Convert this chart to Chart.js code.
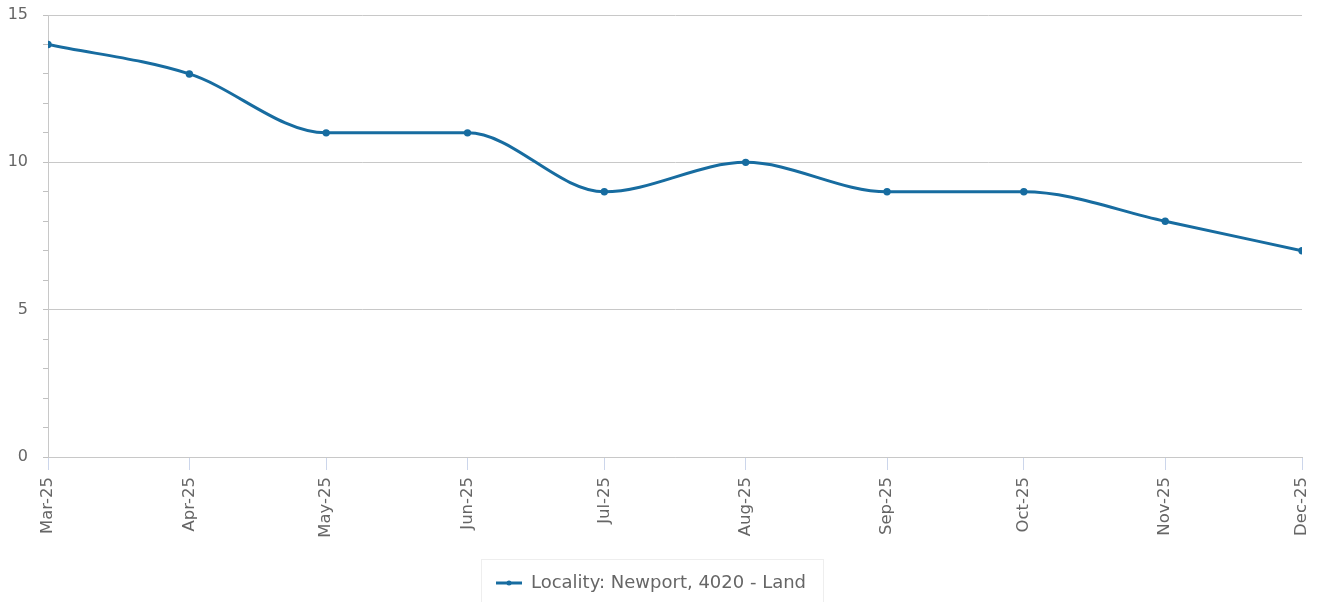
<!DOCTYPE html>
<html>
<head>
<meta charset="utf-8">
<script src="https://cdn.jsdelivr.net/npm/chart.js@4"></script>
<style>
  html, body { margin: 0; padding: 0; background: #fff; }
  #wrap { width: 1322px; height: 602px; position: relative; }
</style>
</head>
<body>
<div id="wrap"><canvas id="grafico"></canvas></div>
<script>
// Dados do gráfico
const rotulosMes = ['Mar-25', 'Apr-25', 'May-25', 'Jun-25', 'Jul-25', 'Aug-25', 'Sep-25', 'Oct-25', 'Nov-25', 'Dec-25'];
const valores = [14, 13, 11, 11, 9, 10, 9, 9, 8, 7];
const nomeSerie = 'Locality: Newport, 4020 - Land';
const ticksY = [0, 5, 10, 15];

// eixo x é temporal: converte o rótulo em dias desde o primeiro mês
const mesesIdx = { Jan: 0, Feb: 1, Mar: 2, Apr: 3, May: 4, Jun: 5, Jul: 6, Aug: 7, Sep: 8, Oct: 9, Nov: 10, Dec: 11 };
function paraData(r) {
    const [m, a] = r.split('-');
    return Date.UTC(2000 + Number(a), mesesIdx[m], 1);
}
const base = paraData(rotulosMes[0]);
const diasX = rotulosMes.map(r => Math.round((paraData(r) - base) / 86400000));

const corLinha = '#176ca0';
const fonte = 'DejaVu Sans';

// símbolo da legenda (linha com ponto)
const simbolo = document.createElement('canvas');
simbolo.width = 26; simbolo.height = 8;
(function () {
    const c = simbolo.getContext('2d');
    c.strokeStyle = corLinha; c.lineWidth = 3;
    c.beginPath(); c.moveTo(0, 4); c.lineTo(26, 4); c.stroke();
    c.fillStyle = corLinha;
    c.beginPath(); c.arc(13, 4, 2.5, 0, Math.PI * 2); c.fill();
})();

// moldura em volta da legenda
const bordaLegenda = {
    id: 'bordaLegenda',
    afterDraw(chart) {
        const box = chart.legend.legendHitBoxes[0];
        if (!box) return;
        const ctx = chart.ctx;
        const meio = box.top + box.height / 2;
        ctx.save();
        ctx.strokeStyle = '#eeeeee';
        ctx.lineWidth = 1;
        ctx.strokeRect(Math.round(box.left - 15) + 0.5, Math.round(meio - 24) + 0.5, Math.round(box.width + 32), 60);
        ctx.restore();
    }
};

new Chart(document.getElementById('grafico').getContext('2d'), {
    type: 'line',
    data: {
        datasets: [{
            label: nomeSerie,
            data: diasX.map((x, i) => ({ x: x, y: valores[i] })),
            borderColor: corLinha,
            backgroundColor: corLinha,
            borderWidth: 3,
            pointRadius: 2.2,
            pointHoverRadius: 3,
            pointBackgroundColor: corLinha,
            cubicInterpolationMode: 'monotone',
            fill: false
        }]
    },
    options: {
        responsive: true, maintainAspectRatio: false, animation: false,
        layout: { padding: { top: 15, right: 20, left: 0, bottom: 0 } },
        plugins: {
            legend: {
                position: 'bottom',
                labels: {
                    usePointStyle: true,
                    pointStyle: simbolo,
                    pointStyleWidth: 26,
                    color: '#666',
                    font: { family: fonte, size: 18 },
                    padding: 12
                }
            },
            tooltip: { enabled: false }
        },
        scales: {
            x: {
                type: 'linear',
                min: diasX[0], max: diasX[diasX.length - 1],
                afterBuildTicks: s => { s.ticks = diasX.map(v => ({ value: v })); },
                afterFit: s => { s.height = 105; s.paddingLeft = 0; s.paddingRight = 0; },
                ticks: {
                    minRotation: 90, maxRotation: 90, autoSkip: false,
                    color: '#666', font: { family: fonte, size: 16.5 },
                    padding: 7,
                    callback: v => rotulosMes[diasX.indexOf(v)]
                },
                grid: { drawOnChartArea: false, drawTicks: true, tickLength: 13, tickColor: '#ccd6eb' },
                border: { color: '#c8c8c8', width: 1 }
            },
            y: {
                min: 0, max: 15,
                afterFit: s => { s.width = 48; s.paddingTop = 0; s.paddingBottom = 0; },
                ticks: {
                    stepSize: 1, autoSkip: false,
                    color: '#666', font: { family: fonte, size: 16 },
                    padding: 15,
                    callback: v => ticksY.includes(v) ? v : ''
                },
                grid: {
                    color: c => ticksY.includes(c.tick.value) ? '#c8c8c8' : 'rgba(0,0,0,0)',
                    tickColor: '#c0c0c0', tickLength: 5, lineWidth: 1
                },
                border: { color: '#c8c8c8', width: 1 }
            }
        }
    },
    plugins: [bordaLegenda]
});
</script>
</body>
</html>
